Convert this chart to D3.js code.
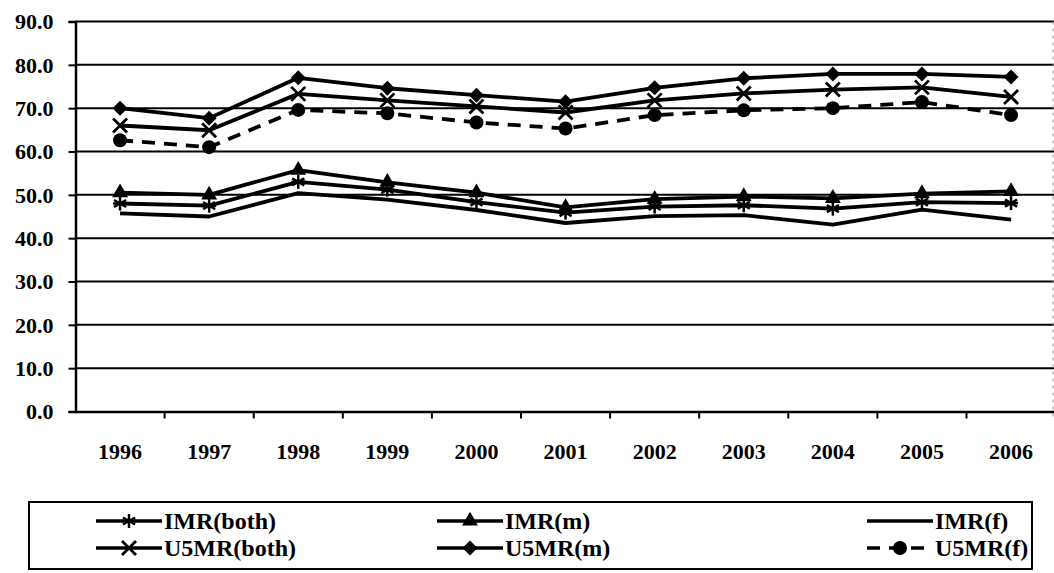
<!DOCTYPE html>
<html>
<head>
<meta charset="utf-8">
<script src="https://cdn.jsdelivr.net/npm/d3@7"></script>
<style>
  html, body { margin: 0; padding: 0; background: #fff; }
  svg { display: block; }
  svg text { font-family: "Liberation Serif", "Times New Roman", Times, "DejaVu Serif", serif !important; font-weight: bold; fill: #000; }
</style>
</head>
<body>
<svg id="chart" width="1054" height="573"></svg>
<script>
// Years on the category axis
const years = ["1996","1997","1998","1999","2000","2001","2002","2003","2004","2005","2006"];

// Infant mortality rate (per 1000 live births)
const imrBoth = [48.0, 47.5, 53.0, 51.2, 48.3, 45.9, 47.3, 47.6, 46.8, 48.3, 48.1];
const imrM    = [50.5, 50.0, 55.7, 52.9, 50.5, 47.1, 49.0, 49.6, 49.2, 50.3, 50.8];
const imrF    = [45.7, 45.0, 50.4, 48.9, 46.5, 43.5, 45.1, 45.3, 43.1, 46.6, 44.3];

// Under-five mortality rate (per 1000 live births)
const u5Both  = [66.0, 64.9, 73.3, 71.8, 70.4, 69.0, 71.8, 73.4, 74.3, 74.8, 72.6];
const u5M     = [70.0, 67.7, 77.0, 74.6, 73.0, 71.5, 74.7, 76.9, 77.9, 77.9, 77.2];
const u5F     = [62.6, 61.0, 69.6, 68.8, 66.7, 65.3, 68.4, 69.5, 70.0, 71.4, 68.4];

const yTicks = [0, 10, 20, 30, 40, 50, 60, 70, 80, 90];

const series = [
  { name: "IMR(both)",  values: imrBoth, marker: "asterisk", dash: null },
  { name: "IMR(m)",     values: imrM,    marker: "triangle", dash: null },
  { name: "IMR(f)",     values: imrF,    marker: "none",     dash: null },
  { name: "U5MR(both)", values: u5Both,  marker: "cross",    dash: null },
  { name: "U5MR(m)",    values: u5M,     marker: "diamond",  dash: null },
  { name: "U5MR(f)",    values: u5F,     marker: "circle",   dash: "13,9" }
];

const svg = d3.select("#chart");
const plot = { left: 75.5, top: 21.5, bottom: 411.5, right: 75.5 + 89.1 * years.length };

const x = d3.scaleBand().domain(years).range([plot.left, plot.right]);
const y = d3.scaleLinear().domain([0, 90]).range([plot.bottom, plot.top]);
const cx = d => x(d) + x.bandwidth() / 2;

// Horizontal gridlines
svg.append("g")
  .selectAll("line")
  .data(yTicks.filter(t => t > 0))
  .join("line")
  .attr("x1", plot.left).attr("x2", 1054)
  .attr("y1", d => y(d)).attr("y2", d => y(d))
  .attr("stroke", "#000").attr("stroke-width", 2);

// Faint right edge of the plot area
svg.append("line")
  .attr("x1", 1053).attr("x2", 1053)
  .attr("y1", plot.top).attr("y2", plot.bottom + 8)
  .attr("stroke", "#999").attr("stroke-width", 1)
  .attr("stroke-dasharray", "3,4");

// Y axis
const yAxis = svg.append("g")
  .attr("transform", `translate(${plot.left},0)`)
  .call(d3.axisLeft(y).tickValues(yTicks).tickFormat(d3.format(".1f")).tickSize(7).tickPadding(15));
yAxis.attr("font-family", null);
yAxis.select(".domain").attr("stroke", "#000").attr("stroke-width", 2.5);
yAxis.selectAll(".tick line").attr("stroke", "#000").attr("stroke-width", 2);
yAxis.selectAll(".tick text").attr("font-size", 22).attr("dy", "0.33em");

// X axis with ticks between categories
const xAxis = svg.append("g")
  .attr("transform", `translate(0,${plot.bottom})`)
  .call(d3.axisBottom(x).tickSize(0).tickPadding(32));
xAxis.attr("font-family", null);
xAxis.select(".domain").attr("stroke", "#000").attr("stroke-width", 2.5);
xAxis.selectAll(".tick text").attr("font-size", 22);
xAxis.append("g")
  .selectAll("line")
  .data(years.slice(1))
  .join("line")
  .attr("x1", d => x(d)).attr("x2", d => x(d))
  .attr("y1", 0).attr("y2", 7)
  .attr("stroke", "#000").attr("stroke-width", 2);

// Marker drawing
function drawMarker(g, type, px, py) {
  if (type === "asterisk") {
    const r = 7;
    [0, 60, 120].forEach(a => {
      const rad = a * Math.PI / 180;
      g.append("line")
        .attr("x1", px - r * Math.sin(rad)).attr("y1", py - r * Math.cos(rad))
        .attr("x2", px + r * Math.sin(rad)).attr("y2", py + r * Math.cos(rad))
        .attr("stroke", "#000").attr("stroke-width", 2.5);
    });
    g.append("line").attr("x1", px - 7).attr("x2", px + 7).attr("y1", py).attr("y2", py)
      .attr("stroke", "#000").attr("stroke-width", 2.5);
  } else if (type === "triangle") {
    g.append("path")
      .attr("d", d3.symbol(d3.symbolTriangle, 110)())
      .attr("transform", `translate(${px},${py})`)
      .attr("fill", "#000");
  } else if (type === "cross") {
    const r = 7;
    g.append("path")
      .attr("d", `M${px - r},${py - r}L${px + r},${py + r}M${px - r},${py + r}L${px + r},${py - r}`)
      .attr("stroke", "#000").attr("stroke-width", 2.8).attr("fill", "none");
  } else if (type === "diamond") {
    const r = 7.5;
    g.append("path")
      .attr("d", `M${px},${py - r}L${px + r},${py}L${px},${py + r}L${px - r},${py}Z`)
      .attr("fill", "#000");
  } else if (type === "circle") {
    g.append("circle").attr("cx", px).attr("cy", py).attr("r", 7).attr("fill", "#000");
  }
}

// Series lines and markers
const line = d3.line().x((d, i) => cx(years[i])).y(d => y(d));
series.forEach(s => {
  const g = svg.append("g");
  g.append("path")
    .attr("d", line(s.values))
    .attr("fill", "none").attr("stroke", "#000").attr("stroke-width", 3.8)
    .attr("stroke-linejoin", "round")
    .attr("stroke-dasharray", s.dash);
  s.values.forEach((v, i) => drawMarker(g, s.marker, cx(years[i]), y(v)));
});

// Legend
const legend = svg.append("g");
legend.append("rect")
  .attr("x", 29).attr("y", 502).attr("width", 1003).attr("height", 67)
  .attr("fill", "none").attr("stroke", "#000").attr("stroke-width", 2);

const colX = [96, 437, 867];
const rowY = [521, 548];
series.forEach((s, i) => {
  const lx = colX[i % 3];
  const ly = rowY[Math.floor(i / 3)];
  const lg = legend.append("g");
  lg.append("line")
    .attr("x1", lx).attr("x2", lx + 66).attr("y1", ly).attr("y2", ly)
    .attr("stroke", "#000").attr("stroke-width", 3.5)
    .attr("stroke-dasharray", s.dash ? "13,9" : null);
  drawMarker(lg, s.marker, lx + 33, ly);
  lg.append("text")
    .attr("x", lx + 68).attr("y", ly).attr("dy", "0.35em")
    .attr("font-size", 24)
    .text(s.name);
});
</script>
</body>
</html>
